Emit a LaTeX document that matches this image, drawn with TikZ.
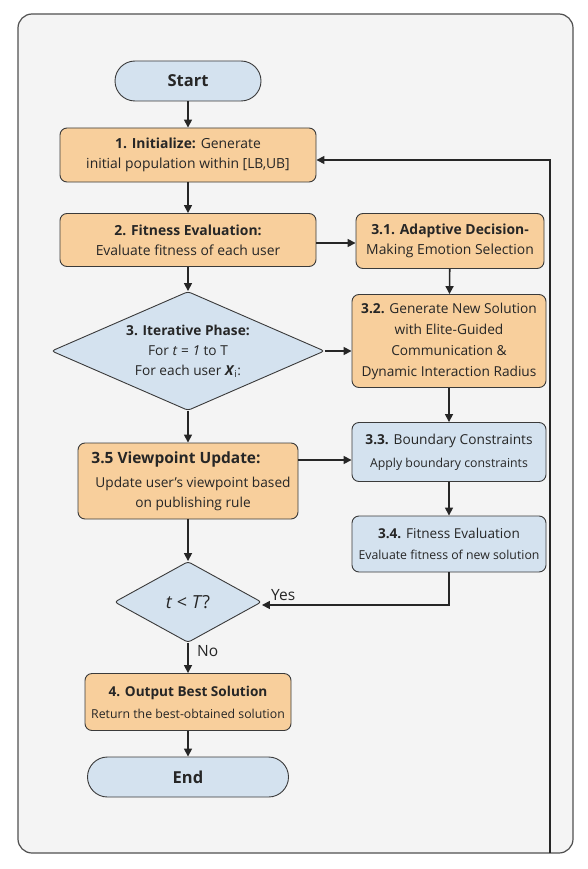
\documentclass[tikz,border=0pt]{standalone}
\usepackage{fontspec}
\setmainfont{Open Sans}
\usetikzlibrary{shapes.geometric,arrows.meta,calc}
\definecolor{orfill}{HTML}{F8CF9C}
\definecolor{blfill}{HTML}{D4E2EF}
\definecolor{edge}{HTML}{3A3A3A}
\definecolor{lnk}{HTML}{262626}
\definecolor{framebg}{HTML}{F4F4F4}
\definecolor{framedraw}{HTML}{505050}
\newcommand{\smalltxt}{\fontsize{12.3}{14}\selectfont}
\begin{document}
\begin{tikzpicture}[x=1pt,y=-1pt,
  base/.style={draw=edge,line width=0.9pt,inner sep=0pt,align=center,text=black!85},
  obox/.style={base,fill=orfill,rounded corners=7pt},
  bbox/.style={base,fill=blfill,rounded corners=7pt},
  term/.style={base,fill=blfill,rounded corners=20pt,font=\fontsize{16.5}{18}\selectfont\bfseries},
  dec/.style={base,fill=blfill,diamond,rounded corners=3pt},
  txt/.style={font=\fontsize{13.9}{20}\selectfont},
  arr/.style={draw=lnk,line width=1.6pt,-{Triangle[length=8pt,width=8pt]}},
  lbl/.style={font=\fontsize{15.5}{17}\selectfont,text=black!85,inner sep=0pt}
]
\useasboundingbox (0,0) rectangle (588,869);
\fill[white] (0,0) rectangle (588,869);
\draw[framedraw,fill=framebg,line width=1.2pt,rounded corners=14pt] (18,14) rectangle (573,853);

\node[term,minimum width=146pt,minimum height=40pt] (start) at (188,81) {Start};
\node[obox,txt,minimum width=256pt,minimum height=54pt] (init) at (188,155)
  {\textbf{1. Initialize:} Generate\\initial population within [LB,UB]};
\node[obox,txt,minimum width=256pt,minimum height=53pt] (fit) at (188,240)
  {\textbf{2. Fitness Evaluation:}\\Evaluate fitness of each user};
\node[obox,txt,minimum width=188pt,minimum height=55pt] (ad) at (450,241)
  {\textbf{3.1. Adaptive Decision-}\\Making Emotion Selection};
\node[dec,minimum width=273pt,minimum height=119pt,aspect=2.3,font=\fontsize{13.7}{20}\selectfont] (it) at (188,351)
  {\textbf{3. Iterative Phase:}\\For \textit{t} = \textit{1} to T\\For each user \textbf{\textit{X}}\textsubscript{i}:};
\node[obox,minimum width=194pt,minimum height=93pt,font=\fontsize{13.7}{21}\selectfont] (gen) at (449,341)
  {\textbf{3.2.} Generate New Solution\\with Elite-Guided\\Communication \&\\Dynamic Interaction Radius};
\node[bbox,minimum width=194pt,minimum height=59pt,font=\fontsize{13.7}{23}\selectfont] (bc) at (449,452)
  {\textbf{3.3.} Boundary Constraints\\{\smalltxt Apply boundary constraints}};
\node[obox,minimum width=220pt,minimum height=76pt,font=\fontsize{13.7}{20}\selectfont] (vu) at (188,481)
  {{\fontsize{15.5}{17}\selectfont\bfseries 3.5 Viewpoint Update:}\hspace*{24pt}\\[4pt]\hspace*{10pt}Update user’s viewpoint based\\\hspace*{10pt}on publishing rule};
\node[bbox,minimum width=194pt,minimum height=56pt,font=\fontsize{13.6}{21}\selectfont] (fe) at (449,544)
  {\textbf{3.4.} Fitness Evaluation\\{\smalltxt Evaluate fitness of new solution}};
\node[dec,minimum width=147pt,minimum height=81pt,aspect=1.8,font=\fontsize{18}{20}\selectfont] (tq) at (188,602)
  {\textit{t} < \textit{T}?};
\node[obox,minimum width=206pt,minimum height=57pt,font=\fontsize{13.6}{22}\selectfont] (out) at (188,702)
  {\textbf{4. Output Best Solution}\\{\smalltxt Return the best-obtained solution}};
\node[term,minimum width=201pt,minimum height=40pt] (end) at (188,777) {End};

\coordinate (fb) at (550,853);

\draw[arr] (start) -- (init);
\draw[arr] (init) -- (fit);
\draw[arr] ([yshift=-3pt]fit.east) -- ([yshift=-3pt]fit.east -| ad.west);
\draw[arr] (fit) -- (it);
\draw[arr] (ad) -- (gen);
\draw[arr] (it.east) -- (it.east -| gen.west);
\draw[arr] (it) -- (vu);
\draw[arr] (gen) -- (bc);
\draw[arr] ([yshift=21pt]vu.east) -- ([yshift=21pt]vu.east -| bc.west);
\draw[arr] (bc) -- (fe);
\draw[arr] (fe.south) |- ([yshift=-3pt]tq.east);
\node[lbl,anchor=south west] (yes) at ([xshift=9pt,yshift=1pt]tq.east) {Yes};
\draw[arr] (vu) -- (tq);
\draw[arr] (tq) -- (out);
\node[lbl,anchor=west] (no) at ([xshift=9pt,yshift=-8pt]tq.south) {No};
\draw[arr] (out) -- (end);
\draw[arr] (fb) |- ([yshift=-5pt]init.east);
\end{tikzpicture}
\end{document}
